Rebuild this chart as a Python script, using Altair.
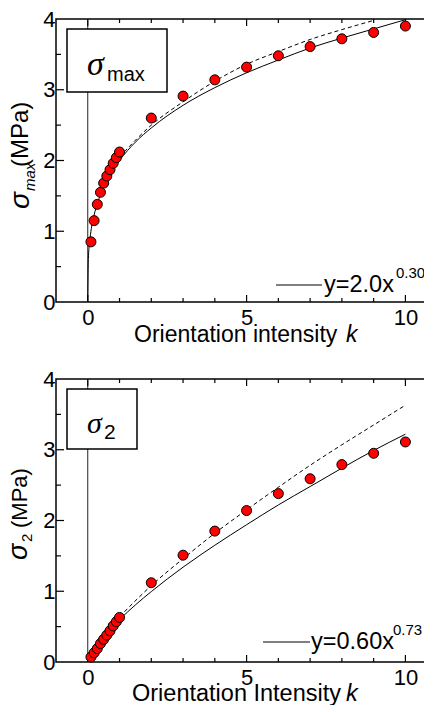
import altair as alt
import pandas as pd

# ---------------- data ----------------
k_pts = [0.1, 0.2, 0.3, 0.4, 0.5, 0.6, 0.7, 0.8, 0.9, 1.0, 2, 3, 4, 5, 6, 7, 8, 9, 10]
smax_pts = [0.85, 1.15, 1.38, 1.55, 1.68, 1.78, 1.87, 1.96, 2.04, 2.12,
            2.60, 2.91, 3.14, 3.32, 3.48, 3.61, 3.72, 3.81, 3.90]
s2_pts = [0.07, 0.13, 0.19, 0.26, 0.32, 0.38, 0.44, 0.51, 0.57, 0.63,
          1.12, 1.51, 1.85, 2.14, 2.38, 2.59, 2.79, 2.95, 3.11]

fit_k = [0, 0.02, 0.05, 0.1, 0.2, 0.3, 0.5, 0.7, 1, 1.5, 2, 3, 4, 5, 6, 7, 8, 9, 10]
smax_fit = [0, 0.62, 0.81, 1.00, 1.23, 1.39, 1.62, 1.80, 2.00, 2.26,
            2.46, 2.78, 3.03, 3.24, 3.42, 3.59, 3.73, 3.86, 3.99]
s2_fit = [0, 0.035, 0.067, 0.112, 0.185, 0.249, 0.362, 0.463, 0.60, 0.807,
          0.995, 1.34, 1.65, 1.94, 2.22, 2.48, 2.74, 2.99, 3.22]

smax_dash_k = [1, 2, 3, 4, 5, 6, 7, 8, 9]
smax_dash = [2.05, 2.50, 2.83, 3.12, 3.36, 3.54, 3.71, 3.85, 3.98]
s2_dash_k = [1, 2, 3, 4, 5, 6, 7, 8, 9, 10]
s2_dash = [0.64, 1.08, 1.46, 1.82, 2.15, 2.47, 2.78, 3.07, 3.35, 3.63]

x_label_values = [0, 5, 10]
x_minor = [1, 2, 3, 4, 6, 7, 8, 9]
y_label_values = [0, 1, 2, 3, 4]
y_major = [1, 2, 3]
y_minor = [0.5, 1.5, 2.5, 3.5]

X_DOMAIN = [-1, 10.9]
Y_DOMAIN = [0, 4]
W, H = 378, 283
SANS = "Liberation Sans"
SERIF = "Liberation Serif"

xs = alt.Scale(domain=X_DOMAIN, nice=False, zero=False)
ys = alt.Scale(domain=Y_DOMAIN, nice=False, zero=False)
x_axis = alt.Axis(values=x_label_values, format="d", ticks=False, tickSize=0,
                  domain=False, grid=False, labelPadding=5, title=None,
                  labelFontSize=22, labelFont=SANS, labelColor="black")
y_axis = alt.Axis(values=y_label_values, format="d", ticks=False, tickSize=0,
                  domain=False, grid=False, labelPadding=1, title=None,
                  labelFontSize=22, labelFont=SANS, labelColor="black")

ONE = alt.Data(values=[{}])


def txt(s, x, y, size, style="normal", font=SANS, angle=0):
    return alt.Chart(ONE).mark_text(
        text=s, font=font, fontSize=size, fontStyle=style, color="black",
        align="left", baseline="alphabetic", angle=angle
    ).encode(x=alt.value(x), y=alt.value(y))


def tick_layers():
    layers = []
    for vals, ln in ((x_label_values, 7), (x_minor, 4)):
        d = pd.DataFrame({"v": vals})
        layers.append(alt.Chart(d).mark_rule(color="black", strokeWidth=1.2, y2Offset=-ln)
                      .encode(x=alt.X("v:Q", scale=xs), y=alt.datum(0), y2=alt.datum(0)))
        layers.append(alt.Chart(d).mark_rule(color="black", strokeWidth=1.2, y2Offset=ln)
                      .encode(x=alt.X("v:Q", scale=xs), y=alt.datum(4), y2=alt.datum(4)))
    for vals, ln in ((y_major, 8), (y_minor, 5)):
        d = pd.DataFrame({"v": vals})
        layers.append(alt.Chart(d).mark_rule(color="black", strokeWidth=1.2, x2Offset=ln)
                      .encode(y=alt.Y("v:Q", scale=ys), x=alt.datum(X_DOMAIN[0]), x2=alt.datum(X_DOMAIN[0])))
        layers.append(alt.Chart(d).mark_rule(color="black", strokeWidth=1.2, x2Offset=-ln)
                      .encode(y=alt.Y("v:Q", scale=ys), x=alt.datum(X_DOMAIN[1]), x2=alt.datum(X_DOMAIN[1])))
    return layers


def panel(pts, fit, dk, dv, box, box_texts, legend, ytitle, xtitle):
    pdf = pd.DataFrame({"k": k_pts, "s": pts})
    fdf = pd.DataFrame({"k": fit_k, "s": fit})
    ddf = pd.DataFrame({"k": dk, "s": dv})

    vline = alt.Chart(pd.DataFrame({"k": [0], "a": [0], "b": [4]})).mark_rule(
        color="#222222", strokeWidth=1).encode(
        x=alt.X("k:Q", scale=xs), y=alt.Y("a:Q", scale=ys), y2="b:Q")
    solid = alt.Chart(fdf).mark_line(color="black", strokeWidth=1, interpolate="monotone").encode(
        x=alt.X("k:Q", scale=xs), y=alt.Y("s:Q", scale=ys))
    dashed = alt.Chart(ddf).mark_line(color="black", strokeWidth=1, strokeDash=[4, 3],
                                      interpolate="monotone").encode(
        x=alt.X("k:Q", scale=xs), y=alt.Y("s:Q", scale=ys))
    points = alt.Chart(pdf).mark_point(shape="circle", filled=True, fill="#ff0000", stroke="black",
                                       strokeWidth=1, size=100, opacity=1).encode(
        x=alt.X("k:Q", scale=xs, axis=x_axis), y=alt.Y("s:Q", scale=ys, axis=y_axis))

    bx = alt.Chart(ONE).mark_rect(fill="white", stroke="black", strokeWidth=1.5).encode(
        x=alt.value(box[0]), x2=alt.value(box[1]), y=alt.value(box[2]), y2=alt.value(box[3]))
    lg_line = alt.Chart(ONE).mark_rule(color="black", strokeWidth=1).encode(
        x=alt.value(legend[0]), x2=alt.value(legend[1]), y=alt.value(legend[2]))

    layers = [vline, solid, dashed] + tick_layers() + [points, bx]
    layers += [txt(*t) for t in box_texts]
    layers += [lg_line] + [txt(*t) for t in legend[3]]
    layers += [txt(*t) for t in ytitle]
    layers += [txt(*t) for t in xtitle]
    return alt.layer(*layers).properties(width=W, height=H)


top = panel(
    smax_pts, smax_fit, smax_dash_k, smax_dash,
    box=(11, 111, 10, 73),
    box_texts=[("σ", 31, 56, 34, "italic", SERIF), ("max", 51, 62, 20)],
    legend=(220, 266, 266, [("y=2.0x", 268, 273, 23.5), ("0.30", 340, 259, 15)]),
    ytitle=[("σ", -27, 190, 28, "italic", SANS, 270),
            ("max", -21, 172, 15, "italic", SANS, 270),
            ("(MPa)", -28, 148, 24, "normal", SANS, 270)],
    xtitle=[("Orientation intensity", 78, 323, 23), ("k", 290, 323, 23, "italic")],
)

bottom = panel(
    s2_pts, s2_fit, s2_dash_k, s2_dash,
    box=(11, 81, 10, 70),
    box_texts=[("σ", 31, 54, 30, "italic", SERIF), ("2", 48, 60, 21)],
    legend=(207, 254, 263, [("y=0.60x", 255, 270, 23.5), ("0.73", 337, 256, 15)]),
    ytitle=[("σ", -29, 181, 27, "italic", SANS, 270),
            ("2", -24, 163, 15, "normal", SANS, 270),
            ("(MPa)", -29, 149, 22, "normal", SANS, 270)],
    xtitle=[("Orientation Intensity", 76, 322, 23.5), ("k", 290, 322, 23.5, "italic")],
)

chart = alt.vconcat(top, bottom, spacing=19).properties(
    padding={"left": -4, "top": -1, "right": -12, "bottom": -2},
).configure_view(stroke="black", strokeWidth=1.5)

chart.save("out.html", embed_options={"renderer": "svg", "actions": False})
